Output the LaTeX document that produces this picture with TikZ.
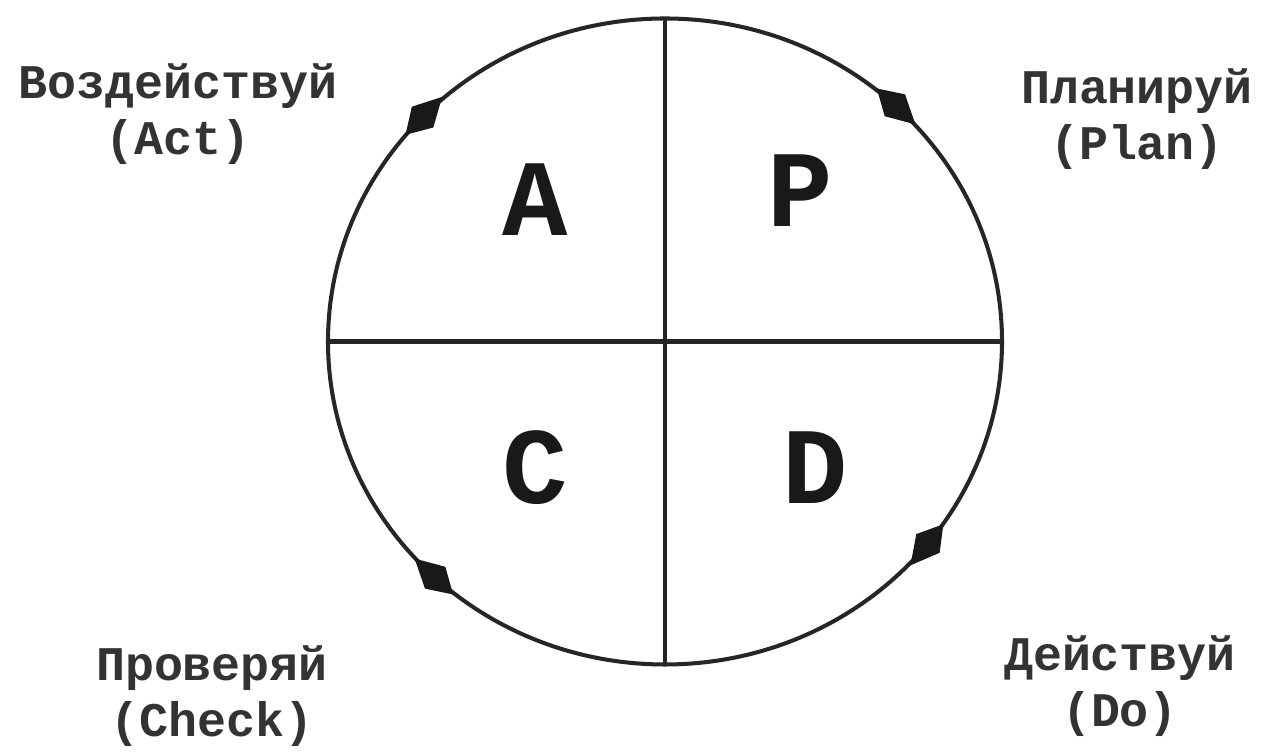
\documentclass[tikz,border=0pt]{standalone}
\usepackage{fontspec}
\newfontfamily\mono{Liberation Mono}
\usetikzlibrary{calc}
\newcommand\kitetip[2]{\fill[kite,shift={(#1)},rotate=#2] (16pt,0pt) -- (0pt,8.5pt) -- (-14pt,0pt) -- (0pt,-8.5pt) -- cycle;}
\begin{document}
\begin{tikzpicture}[x=0.02cm,y=0.02cm,
  ring/.style={line width=2.3pt,draw=black!85},
  axis/.style={line width=2.3pt,draw=black!85},
  lbl/.style={font=\mono\bfseries\fontsize{27.5}{32}\selectfont,align=center,text=black!80},
  big/.style={font=\mono\bfseries\fontsize{62}{62}\selectfont,text=black!90},
  kite/.style={fill=black!90}]
\useasboundingbox (0,0) rectangle (1269,753);
\coordinate (O) at (665,411.5);
\coordinate (T) at (665,735);
\coordinate (Bt) at (665,88);
\coordinate (L) at (328,411.5);
\coordinate (R) at (1003,411.5);
\draw[ring] (O) ellipse [x radius=337, y radius=323];
\draw[axis] (T) -- (Bt);
\draw[axis] (L) -- (R);
\coordinate (k1) at ($(O)+(47:337 and 323)$);
\coordinate (k2) at ($(O)+(136:337 and 323)$);
\coordinate (k3) at ($(O)+(-133:337 and 323)$);
\coordinate (k4) at ($(O)+(-38.7:337 and 323)$);
\kitetip{k1}{-43}
\kitetip{k2}{46}
\kitetip{k3}{137}
\kitetip{k4}{-128.7}
\node[big] (A) at (535,553) {A};
\node[big] (P) at (800,562) {P};
\node[big] (C) at (535,285) {C};
\node[big] (D) at (815,285) {D};
\node[lbl] (act) at (178,639) {Воздействуй\\(Act)};
\node[lbl] (plan) at (1137,634) {Планируй\\(Plan)};
\node[lbl] (check) at (212,57) {Проверяй\\(Check)};
\node[lbl] (do) at (1120,67) {Действуй\\(Do)};
\end{tikzpicture}
\end{document}
